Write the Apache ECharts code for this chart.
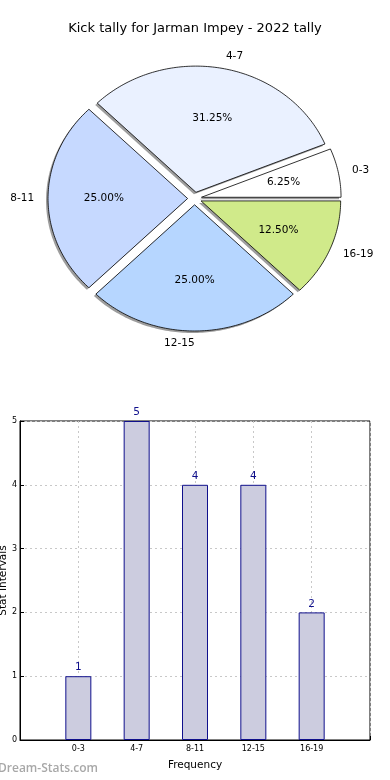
<!DOCTYPE html>
<html>
<head>
<meta charset="utf-8">
<script src="https://cdn.jsdelivr.net/npm/echarts@6/dist/echarts.min.js"></script>
<style>
html,body{margin:0;padding:0;background:#fff;}
#c{width:390px;height:780px;}
</style>
</head>
<body>
<div id="c"></div>
<script>
const titleText = 'Kick tally for Jarman Impey - 2022 tally';
const categories = ['0-3', '4-7', '8-11', '12-15', '16-19'];
const values = [1, 5, 4, 4, 2];
const sliceColors = ['#ffffff', '#eaf1ff', '#c6d9ff', '#b6d6ff', '#d0ea8a'];
const yTicks = [0, 1, 2, 3, 4, 5];
const xAxisName = 'Frequency';
const yAxisName = 'Stat Intervals';
const watermark = 'Dream-Stats.com';

const FONT = 'DejaVu Sans';
const total = values.reduce((a, b) => a + b, 0);

// build slices (start angle, end angle in degrees, counter-clockwise from 3 o'clock)
const pieData = [];
let acc = 0;
values.forEach((v, i) => {
  const s = acc / total * 360;
  acc += v;
  const e = acc / total * 360;
  pieData.push([s, e, i]);
});

const EXPLODE = 0.05;
function renderSlice(params, api) {
  const s = api.value(0), e = api.value(1), i = api.value(2);
  const mid = (s + e) / 2 * Math.PI / 180;
  const ex = EXPLODE * Math.cos(mid), ey = EXPLODE * Math.sin(mid);
  const pts = [api.coord([ex, ey])];
  const steps = Math.max(2, Math.ceil(e - s));
  for (let k = 0; k <= steps; k++) {
    const a = (s + (e - s) * k / steps) * Math.PI / 180;
    pts.push(api.coord([ex + Math.cos(a), ey + Math.sin(a)]));
  }
  const shadowPts = pts.map(p => [p[0] - 2, p[1] + 2]);
  const pct = (values[i] / total * 100).toFixed(2) + '%';
  const lx = 1.1 * Math.cos(mid), ly = 1.1 * Math.sin(mid);
  const lp = api.coord([ex + lx, ey + ly]);
  const pp = api.coord([ex + 0.6 * Math.cos(mid), ey + 0.6 * Math.sin(mid)]);
  return {
    type: 'group',
    children: [
      { type: 'polygon', z2: 0, shape: { points: shadowPts }, style: { fill: 'rgba(77,77,77,0.55)', stroke: null } },
      { type: 'polygon', z2: 10, shape: { points: pts }, style: { fill: sliceColors[i], stroke: '#000', lineWidth: 0.8 } },
      { type: 'text', z2: 20, x: pp[0], y: pp[1], style: { text: pct, fill: '#000', font: '10.5px "' + FONT + '"', align: 'center', verticalAlign: 'middle' } },
      { type: 'text', z2: 20, x: lp[0], y: lp[1], style: { text: categories[i], fill: '#000', font: '10.5px "' + FONT + '"', align: lx > 1e-9 ? 'left' : 'right', verticalAlign: 'middle' } }
    ]
  };
}

const barData = values.map((v, i) => [i + 1, v]);

const chart = echarts.init(document.getElementById('c'), null, { renderer: 'canvas' });
chart.setOption({
  animation: false,
  backgroundColor: '#fff',
  title: {
    text: titleText, left: 'center', top: 17,
    textStyle: { fontFamily: FONT, fontSize: 13, fontWeight: 'normal', color: '#000' }
  },
  graphic: [{
    type: 'text', left: -2, top: 763,
    style: { text: watermark, fill: '#a8a8a8', font: '600 12px "Open Sans"' }
  }],
  grid: [
    { left: 55, width: 279.2, top: 72.3, height: 252.4, show: false, containLabel: false, outerBoundsMode: 'none' },
    { left: 20, right: 20, top: 421, bottom: 40, show: true, borderColor: '#000', borderWidth: 1, backgroundColor: 'transparent', containLabel: false, outerBoundsMode: 'none' }
  ],
  xAxis: [
    { gridIndex: 0, type: 'value', min: -1, max: 1, show: false },
    {
      gridIndex: 1, type: 'value', min: 0, max: 6, interval: 1,
      name: xAxisName, nameLocation: 'middle', nameGap: 20, nameMoveOverlap: false,
      nameTextStyle: { fontFamily: FONT, fontSize: 10.5, color: '#000' },
      axisLine: { show: true, lineStyle: { color: '#000', width: 1 } },
      axisTick: { show: true, inside: true, length: 4, lineStyle: { color: '#000' } },
      axisLabel: {
        fontFamily: FONT, fontSize: 8, color: '#000', margin: 5,
        formatter: v => (v >= 1 && v <= categories.length) ? categories[v - 1] : ''
      },
      splitLine: { show: true, lineStyle: { color: '#c8c8c8', type: [2, 3], width: 1 } }
    }
  ],
  yAxis: [
    { gridIndex: 0, type: 'value', min: -1, max: 1, show: false },
    {
      gridIndex: 1, type: 'value', min: yTicks[0], max: yTicks[yTicks.length - 1], interval: 1,
      name: yAxisName, nameLocation: 'middle', nameGap: 11, nameRotate: 90, nameMoveOverlap: false,
      nameTextStyle: { fontFamily: FONT, fontSize: 10.5, color: '#000' },
      axisLine: { show: true, lineStyle: { color: '#000', width: 1 } },
      axisTick: { show: true, inside: true, length: 4, lineStyle: { color: '#000' } },
      axisLabel: { fontFamily: FONT, fontSize: 8, color: '#000', margin: 3 },
      splitLine: { show: true, lineStyle: { color: '#c8c8c8', type: [2, 3], width: 1 } }
    }
  ],
  series: [
    {
      type: 'custom', xAxisIndex: 0, yAxisIndex: 0,
      renderItem: renderSlice, data: pieData, silent: true
    },
    {
      type: 'bar', xAxisIndex: 1, yAxisIndex: 1, data: barData, barWidth: 26,
      itemStyle: { color: '#ccccdf', borderColor: '#10108c', borderWidth: 1 },
      label: { show: true, position: 'top', distance: 3, color: '#10108c', fontFamily: FONT, fontSize: 10.5 }
    }
  ]
});
</script>
</body>
</html>
